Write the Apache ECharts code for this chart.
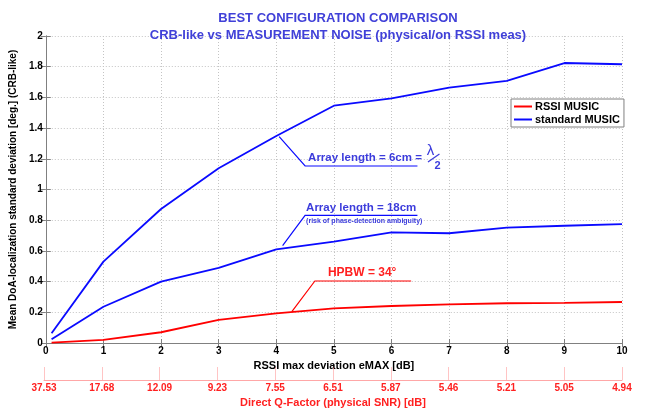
<!DOCTYPE html>
<html>
<head>
<meta charset="utf-8">
<script src="https://cdn.jsdelivr.net/npm/echarts@6/dist/echarts.min.js"></script>
<style>html,body{margin:0;padding:0;background:#fff}#c{width:646px;height:409px}</style>
</head>
<body>
<div id="c"></div>
<script>
var xValues = [0.1, 1, 2, 3, 4, 5, 6, 7, 8, 9, 10];
var std6cm = [0.063, 0.53, 0.873, 1.138, 1.349, 1.546, 1.594, 1.663, 1.707, 1.824, 1.816];
var std18cm = [0.024, 0.236, 0.40, 0.49, 0.61, 0.66, 0.721, 0.715, 0.751, 0.764, 0.775];
var rssiMusic = [0.002, 0.02, 0.07, 0.15, 0.193, 0.226, 0.241, 0.252, 0.259, 0.262, 0.267];
var qFactorLabels = ['37.53', '17.68', '12.09', '9.23', '7.55', '6.51', '5.87', '5.46', '5.21', '5.05', '4.94'];

var FONT = 'Liberation Sans';
var BLUE = '#0a0aff';
var RED = '#ff0000';
var TXTBLUE = '#3c3cdc';

function pairs(ys) { return xValues.map(function (x, i) { return [x, ys[i]]; }); }

var chart = echarts.init(document.getElementById('c'), null, { renderer: 'canvas' });
var gridLine = { show: true, lineStyle: { color: '#c4c4c4', type: [1, 2], width: 1 } };
var axLine = { show: true, lineStyle: { color: '#808080', width: 1 } };
var option = {
  animation: false,
  backgroundColor: '#ffffff',
  title: {
    text: 'BEST CONFIGURATION COMPARISON\nCRB-like vs MEASUREMENT NOISE (physical/on RSSI meas)',
    left: 333, top: 5, textAlign: 'center',
    textStyle: { fontFamily: FONT, fontSize: 13, fontWeight: 'bold', color: '#4040d8', lineHeight: 17 }
  },
  legend: {
    data: ['RSSI MUSIC', 'standard MUSIC'],
    orient: 'vertical', left: 511, top: 99,
    padding: [1, 4, 1, 3], itemGap: 0,
    itemWidth: 18, itemHeight: 2, icon: 'rect',
    backgroundColor: '#ffffff', borderColor: '#808080', borderWidth: 1,
    textStyle: { fontFamily: FONT, fontSize: 11, fontWeight: 'bold', color: '#000', lineHeight: 13, padding: [0, 0, 0, -2] }
  },
  grid: [
    { left: 44, right: 24, top: 36, bottom: 66 },
    { left: 44, right: 24, top: 367, height: 13 }
  ],
  xAxis: [
    {
      gridIndex: 0, type: 'value', min: 0, max: 10, interval: 1, position: 'bottom',
      axisLine: axLine, axisTick: { show: true, inside: true, length: 4, lineStyle: { color: '#808080' } },
      splitLine: gridLine,
      axisLabel: { margin: 3, fontFamily: FONT, fontSize: 10, fontWeight: 'bold', color: '#000' },
      name: 'RSSI max deviation eMAX [dB]', nameLocation: 'middle', nameGap: 13,
      nameTextStyle: { fontFamily: FONT, fontSize: 11, fontWeight: 'bold', color: '#000' }
    },
    {
      gridIndex: 0, type: 'value', min: 0, max: 10, interval: 1, position: 'top',
      axisLine: axLine, axisTick: { show: true, inside: true, length: 4, lineStyle: { color: '#808080' } },
      splitLine: { show: false }, axisLabel: { show: false }
    },
    {
      gridIndex: 1, type: 'value', min: 0, max: 10, interval: 1, position: 'bottom',
      axisLine: { show: true, lineStyle: { color: 'rgba(255,60,60,0.45)', width: 1 } },
      axisTick: { show: true, inside: true, length: 13, lineStyle: { color: 'rgba(255,60,60,0.3)' } },
      splitLine: { show: false },
      axisLabel: {
        margin: 3, fontFamily: FONT, fontSize: 10, fontWeight: 'bold', color: '#ff2020',
        formatter: function (v) { return qFactorLabels[Math.round(v)]; }
      },
      name: 'Direct Q-Factor (physical SNR) [dB]', nameLocation: 'middle', nameGap: 17,
      nameTextStyle: { fontFamily: FONT, fontSize: 11, fontWeight: 'bold', color: '#ff2020' }
    }
  ],
  yAxis: [
    {
      gridIndex: 0, type: 'value', min: 0, max: 2, interval: 0.2, position: 'left',
      axisLine: axLine, axisTick: { show: true, inside: true, length: 5, lineStyle: { color: '#808080' } },
      splitLine: gridLine,
      axisLabel: { margin: 3, fontFamily: FONT, fontSize: 10, fontWeight: 'bold', color: '#000',
        formatter: function (v) { return String(Math.round(v * 10) / 10); } },
      name: 'Mean DoA-localization standard deviation [deg.] (CRB-like)', nameLocation: 'middle', nameGap: 26,
      nameTextStyle: { fontFamily: FONT, fontSize: 10, fontWeight: 'bold', color: '#000' }
    },
    {
      gridIndex: 0, type: 'value', min: 0, max: 2, interval: 0.2, position: 'right',
      axisLine: axLine, axisTick: { show: true, inside: true, length: 5, lineStyle: { color: '#808080' } },
      splitLine: { show: false }, axisLabel: { show: false }
    },
    { gridIndex: 1, type: 'value', show: false, min: 0, max: 1 }
  ],
  series: [
    { name: 'standard MUSIC', type: 'line', xAxisIndex: 0, yAxisIndex: 0, data: pairs(std6cm),
      symbol: 'none', lineStyle: { color: BLUE, width: 1.8 }, itemStyle: { color: BLUE } },
    { name: 'standard MUSIC', type: 'line', xAxisIndex: 0, yAxisIndex: 0, data: pairs(std18cm),
      symbol: 'none', lineStyle: { color: BLUE, width: 1.8 }, itemStyle: { color: BLUE } },
    { name: 'RSSI MUSIC', type: 'line', xAxisIndex: 0, yAxisIndex: 0, data: pairs(rssiMusic),
      symbol: 'none', lineStyle: { color: RED, width: 1.8 }, itemStyle: { color: RED } }
  ]
};
chart.setOption(option);

// annotation callouts (data-coordinate anchors)
var callouts = [
  { pts: [[4.05, 1.344], [4.50, 1.153], [6.45, 1.153]], color: BLUE, key: '6cm' },
  { pts: [[4.11, 0.634], [4.50, 0.831], [6.45, 0.831]], color: BLUE, key: '18cm' },
  { pts: [[4.27, 0.204], [4.67, 0.404], [6.34, 0.404]], color: RED, key: 'hpbw' }
];
function px(p) { return chart.convertToPixel({ gridIndex: 0 }, p); }
var g = [];
callouts.forEach(function (c) {
  var P = c.pts.map(px);
  g.push({ type: 'polyline', shape: { points: P }, style: { stroke: c.color, lineWidth: 1.2, fill: null }, z: 10 });
  var k = P[1], e = P[2];
  if (c.key === '6cm') {
    g.push({ type: 'text', x: k[0] + 3, y: k[1] - 8, style: { text: 'Array length = 6cm =', font: 'bold 11.5px "' + FONT + '"', fill: TXTBLUE, verticalAlign: 'middle' }, z: 10 });
    g.push({ type: 'text', x: e[0] + 13, y: e[1] - 15, style: { text: 'λ', font: '15px "' + FONT + '"', fill: TXTBLUE, align: 'center', verticalAlign: 'middle' }, z: 10 });
    g.push({ type: 'line', shape: { x1: e[0] + 10.5, y1: e[1] - 4, x2: e[0] + 22, y2: e[1] - 12 }, style: { stroke: TXTBLUE, lineWidth: 1.2 }, z: 10 });
    g.push({ type: 'text', x: e[0] + 20, y: e[1] - 0.5, style: { text: '2', font: 'bold 11px "' + FONT + '"', fill: TXTBLUE, align: 'center', verticalAlign: 'middle' }, z: 10 });
  } else if (c.key === '18cm') {
    g.push({ type: 'text', x: k[0] + 1, y: k[1] - 8, style: { text: 'Array length = 18cm', font: 'bold 11.5px "' + FONT + '"', fill: TXTBLUE, verticalAlign: 'middle' }, z: 10 });
    g.push({ type: 'text', x: k[0] + 1, y: k[1] + 5.5, style: { text: '(risk of phase-detection ambiguity)', font: 'bold 7px "' + FONT + '"', fill: TXTBLUE, verticalAlign: 'middle' }, z: 10 });
  } else {
    g.push({ type: 'text', x: k[0] + 13, y: k[1] - 8.5, style: { text: 'HPBW = 34°', font: 'bold 12px "' + FONT + '"', fill: '#ff2020', verticalAlign: 'middle' }, z: 10 });
  }
});
chart.setOption({ graphic: g });
</script>
</body>
</html>
